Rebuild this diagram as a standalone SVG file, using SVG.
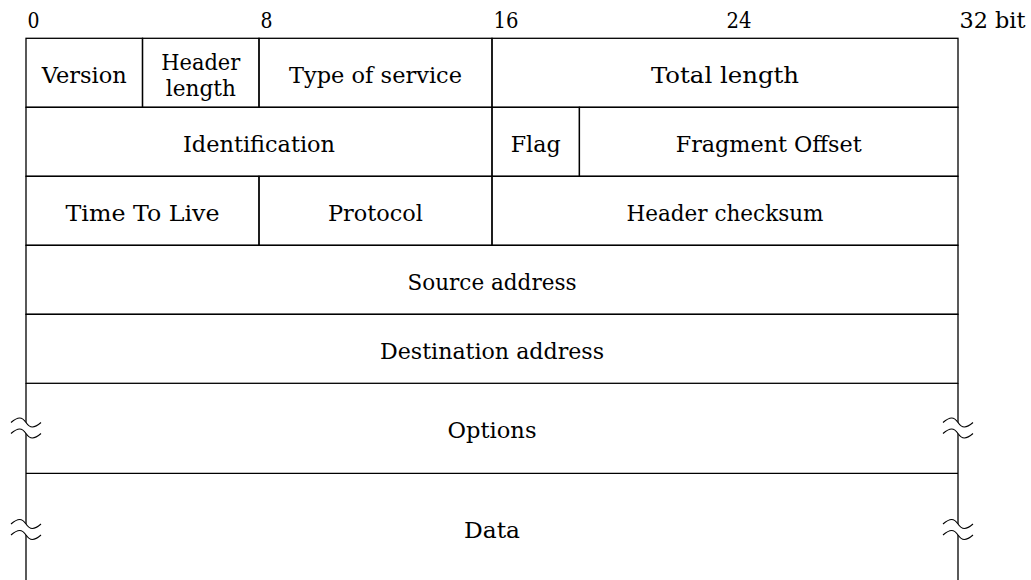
<svg xmlns="http://www.w3.org/2000/svg" width="1031" height="580" viewBox="0 0 1031 580">
<style>
  .cell { fill: none; stroke: #000; stroke-width: 1.3; }
  .ln { stroke: #000; stroke-width: 1.3; fill: none; }
  .t { font-family: "DejaVu Serif", "Liberation Serif", "Noto Serif", serif; font-size: 23px; fill: #000; text-anchor: middle; }
  .bit { font-family: "DejaVu Serif", "Liberation Serif", "Noto Serif", serif; font-size: 23px; fill: #000; text-anchor: start; }
  .gap { fill: #fff; stroke: none; }
  .wave { fill: none; stroke: #000; stroke-width: 1.1; }
</style>
<defs>
  <g id="brk">
    <path class="gap" d="M-15,0 C-8,-6 -4,-6 0,0 S8,6 15,0 L15,11 C8,17 4,17 0,11 S-8,5 -15,11 Z"/>
    <path class="wave" d="M-15,0 C-8,-6 -4,-6 0,0 S8,6 15,0"/>
    <path class="wave" d="M-15,11 C-8,5 -4,5 0,11 S8,17 15,11"/>
  </g>
</defs>
<rect width="1031" height="580" fill="#fff"/>

<g id="bits">
  <text class="bit" x="27.5" y="27.5" textLength="12" lengthAdjust="spacingAndGlyphs">0</text>
  <text class="bit" x="260.5" y="27.5" textLength="12" lengthAdjust="spacingAndGlyphs">8</text>
  <text class="bit" x="493.5" y="27.5" textLength="25" lengthAdjust="spacingAndGlyphs">16</text>
  <text class="bit" x="726.5" y="27.5" textLength="25" lengthAdjust="spacingAndGlyphs">24</text>
  <text class="bit" x="959.5" y="27.5" textLength="66" lengthAdjust="spacingAndGlyphs">32 bit</text>
</g>

<g id="version"><rect class="cell" x="26" y="38.3" width="116.5" height="69"/><text class="t" x="84.3" y="82.8" textLength="85" lengthAdjust="spacingAndGlyphs">Version</text></g>
<g id="header-length"><rect class="cell" x="142.5" y="38.3" width="116.5" height="69"/><text class="t" x="200.8" y="69.5" textLength="79" lengthAdjust="spacingAndGlyphs">Header</text><text class="t" x="200.8" y="95.5" textLength="70" lengthAdjust="spacingAndGlyphs">length</text></g>
<g id="type-of-service"><rect class="cell" x="259" y="38.3" width="233" height="69"/><text class="t" x="375.5" y="82.8" textLength="173" lengthAdjust="spacingAndGlyphs">Type of service</text></g>
<g id="total-length"><rect class="cell" x="492" y="38.3" width="466" height="69"/><text class="t" x="725" y="82.8" textLength="148" lengthAdjust="spacingAndGlyphs">Total length</text></g>

<g id="identification"><rect class="cell" x="26" y="107.3" width="466" height="69"/><text class="t" x="259" y="151.8" textLength="152" lengthAdjust="spacingAndGlyphs">Identification</text></g>
<g id="flag"><rect class="cell" x="492" y="107.3" width="87.4" height="69"/><text class="t" x="535.7" y="151.8" textLength="50" lengthAdjust="spacingAndGlyphs">Flag</text></g>
<g id="fragment-offset"><rect class="cell" x="579.4" y="107.3" width="378.6" height="69"/><text class="t" x="768.7" y="151.8" textLength="186" lengthAdjust="spacingAndGlyphs">Fragment Offset</text></g>

<g id="ttl"><rect class="cell" x="26" y="176.3" width="233" height="69"/><text class="t" x="142.5" y="220.8" textLength="154" lengthAdjust="spacingAndGlyphs">Time To Live</text></g>
<g id="protocol"><rect class="cell" x="259" y="176.3" width="233" height="69"/><text class="t" x="375.5" y="220.8" textLength="95" lengthAdjust="spacingAndGlyphs">Protocol</text></g>
<g id="header-checksum"><rect class="cell" x="492" y="176.3" width="466" height="69"/><text class="t" x="725" y="220.8" textLength="197" lengthAdjust="spacingAndGlyphs">Header checksum</text></g>

<g id="source-address"><rect class="cell" x="26" y="245.3" width="932" height="69"/><text class="t" x="492" y="289.8" textLength="169" lengthAdjust="spacingAndGlyphs">Source address</text></g>
<g id="destination-address"><rect class="cell" x="26" y="314.3" width="932" height="69"/><text class="t" x="492" y="358.8" textLength="224" lengthAdjust="spacingAndGlyphs">Destination address</text></g>

<g id="options">
  <line class="ln" x1="26" y1="473.3" x2="958" y2="473.3"/>
  <text class="t" x="492" y="438.3" textLength="89" lengthAdjust="spacingAndGlyphs">Options</text>
</g>
<g id="data">
  <text class="t" x="492" y="537.7" textLength="56" lengthAdjust="spacingAndGlyphs">Data</text>
</g>

<g id="connectors">
  <line class="ln" x1="26" y1="383.3" x2="26" y2="580"/>
  <line class="ln" x1="958" y1="383.3" x2="958" y2="580"/>
  <use href="#brk" x="26" y="422.5"/>
  <use href="#brk" x="958" y="422.5"/>
  <use href="#brk" x="26" y="524"/>
  <use href="#brk" x="958" y="524"/>
</g>
</svg>
